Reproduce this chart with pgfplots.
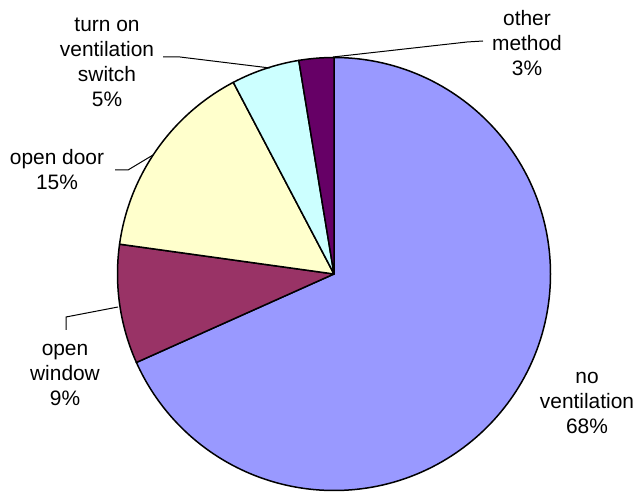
\documentclass[border=0pt]{standalone}
\usepackage{fontspec}
\setmainfont{Liberation Sans}
\usepackage{pgfplots}
\usepackage{pgfplotstable}
\pgfplotsset{compat=1.18}
\definecolor{pie0}{HTML}{9999FF}
\definecolor{pie1}{HTML}{993366}
\definecolor{pie2}{HTML}{FFFFCC}
\definecolor{pie3}{HTML}{CCFFFF}
\definecolor{pie4}{HTML}{660066}
\pgfplotstableread{
value
68.3
8.9
15.1
5.1
2.6
}\pietable
\begin{document}
\begin{tikzpicture}
\begin{axis}[width=319pt, height=246.5pt, scale only axis,
  xmin=0, xmax=638, ymin=0, ymax=493, hide axis, clip=false]
\path (axis cs:0,0) rectangle (axis cs:638,493);
\pgfmathsetmacro\startang{90}
\pgfplotsforeachungrouped \i in {0,...,4}{%
  \pgfplotstablegetelem{\i}{value}\of\pietable
  \pgfmathsetmacro\endang{\startang-3.6*\pgfplotsretval}%
  \edef\temp{\noexpand\filldraw[fill=pie\i, draw=black, line width=0.75pt, line join=round]
    (axis cs:334,219) -- ++(\startang:108.25pt) arc[start angle=\startang, end angle=\endang, radius=108.25pt] -- cycle;}%
  \temp
  \global\let\startang\endang
}
\addplot[black, line width=0.5pt] coordinates {(163,436) (180,436) (270,425)};
\addplot[black, line width=0.5pt] coordinates {(115,323) (128,323) (153,338)};
\addplot[black, line width=0.5pt] coordinates {(483,452) (467,451) (333,436)};
\addplot[black, line width=0.5pt] coordinates {(66,163) (66,176) (118,186)};
\tikzset{lbl/.style={align=center, inner sep=0pt, font=\fontsize{10.45}{12.5}\selectfont}}
\node[lbl] at (axis cs:107,431) {turn on\\ventilation\\switch\\5\%};
\node[lbl] at (axis cs:527,450) {other\\method\\3\%};
\node[lbl] at (axis cs:57,323) {open door\\15\%};
\node[lbl] at (axis cs:65,118) {open\\window\\9\%};
\node[lbl] at (axis cs:587,90) {no\\ventilation\\68\%};
\end{axis}
\end{tikzpicture}
\end{document}
